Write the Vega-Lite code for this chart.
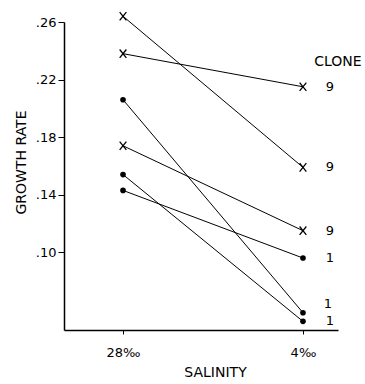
{
  "$schema": "https://vega.github.io/schema/vega-lite/v6.json",
  "width": 274,
  "height": 308,
  "autosize": {"type": "none"},
  "padding": {"left": 64, "top": 22, "right": 27, "bottom": 54},
  "background": "white",
  "config": {
    "view": {"stroke": null},
    "font": "DejaVu Sans",
    "axis": {"grid": false, "domainColor": "black", "tickColor": "black", "labelColor": "black", "titleColor": "black", "labelFont": "DejaVu Sans", "titleFont": "DejaVu Sans", "titleFontWeight": "normal", "labelFontSize": 13, "titleFontSize": 14, "domainWidth": 1.5}
  },
  "data": {
    "values": [
      {"pair": "a", "clone": "9", "salinity": 28, "rate": 0.264},
      {"pair": "a", "clone": "9", "salinity": 4, "rate": 0.159},
      {"pair": "b", "clone": "9", "salinity": 28, "rate": 0.238},
      {"pair": "b", "clone": "9", "salinity": 4, "rate": 0.215},
      {"pair": "c", "clone": "9", "salinity": 28, "rate": 0.174},
      {"pair": "c", "clone": "9", "salinity": 4, "rate": 0.115},
      {"pair": "d", "clone": "1", "salinity": 28, "rate": 0.206},
      {"pair": "d", "clone": "1", "salinity": 4, "rate": 0.058},
      {"pair": "e", "clone": "1", "salinity": 28, "rate": 0.154},
      {"pair": "e", "clone": "1", "salinity": 4, "rate": 0.052},
      {"pair": "f", "clone": "1", "salinity": 28, "rate": 0.143},
      {"pair": "f", "clone": "1", "salinity": 4, "rate": 0.096}
    ]
  },
  "layer": [
    {
      "mark": {"type": "line", "color": "black", "strokeWidth": 1, "clip": false},
      "encoding": {
        "x": {
          "field": "salinity", "type": "quantitative",
          "scale": {"domain": [-0.67, 35.87], "reverse": true, "nice": false, "zero": false},
          "axis": {"values": [28, 4], "labelExpr": "datum.value + '‰'", "title": "SALINITY", "tickSize": 4, "labelPadding": 12, "titlePadding": 6, "titleX": 151}
        },
        "y": {
          "field": "rate", "type": "quantitative",
          "scale": {"domain": [0.046, 0.26], "nice": false, "zero": false},
          "axis": {"values": [0.10, 0.14, 0.18, 0.22, 0.26], "labelExpr": "replace(format(datum.value, '.2f'), '0.', '.')", "title": "GROWTH RATE", "tickSize": 6, "labelPadding": 2, "titlePadding": 7, "titleY": 140}
        },
        "detail": {"field": "pair"}
      }
    },
    {
      "transform": [{"filter": "datum.clone == '9'"}],
      "mark": {"type": "point", "shape": "M-0.8,-1L0.8,1M-0.8,1L0.8,-1", "filled": false, "stroke": "black", "strokeWidth": 1.3, "size": 70, "opacity": 1, "clip": false},
      "encoding": {
        "x": {"field": "salinity", "type": "quantitative"},
        "y": {"field": "rate", "type": "quantitative"}
      }
    },
    {
      "transform": [{"filter": "datum.clone == '1'"}],
      "mark": {"type": "circle", "color": "black", "size": 32, "opacity": 1, "clip": false},
      "encoding": {
        "x": {"field": "salinity", "type": "quantitative"},
        "y": {"field": "rate", "type": "quantitative"}
      }
    },
    {
      "transform": [{"filter": "datum.salinity == 4 && datum.pair != 'd'"}],
      "mark": {"type": "text", "dx": 27, "fontSize": 13, "color": "black", "baseline": "middle", "clip": false},
      "encoding": {
        "x": {"field": "salinity", "type": "quantitative"},
        "y": {"field": "rate", "type": "quantitative"},
        "text": {"field": "clone"}
      }
    },
    {
      "transform": [{"filter": "datum.salinity == 4 && datum.pair == 'd'"}],
      "mark": {"type": "text", "dx": 25, "dy": -9, "fontSize": 13, "color": "black", "baseline": "middle", "clip": false},
      "encoding": {
        "x": {"field": "salinity", "type": "quantitative"},
        "y": {"field": "rate", "type": "quantitative"},
        "text": {"field": "clone"}
      }
    },
    {
      "data": {"values": [{"header": "CLONE"}]},
      "mark": {"type": "text", "dx": 35, "fontSize": 14, "color": "black", "baseline": "middle", "clip": false},
      "encoding": {
        "x": {"datum": 4, "type": "quantitative"},
        "y": {"datum": 0.232, "type": "quantitative"},
        "text": {"field": "header"}
      }
    }
  ]
}
